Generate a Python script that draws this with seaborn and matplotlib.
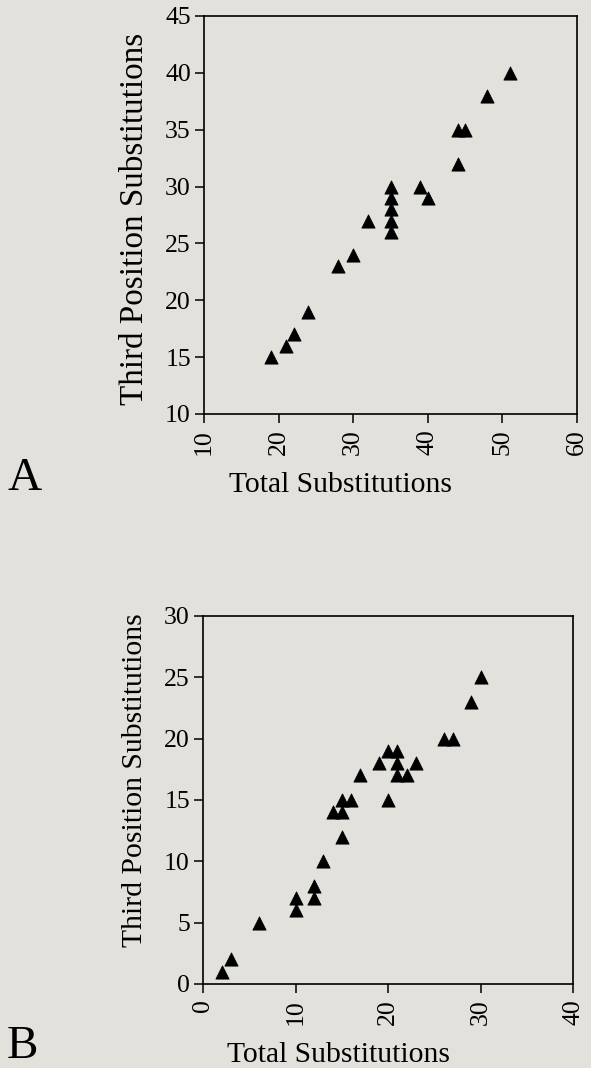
import matplotlib
matplotlib.use("Agg")
import matplotlib.pyplot as plt
import seaborn as sns
import pandas as pd

# Panel A data
a_total = [19, 21, 22, 24, 28, 30, 32, 35, 35, 35, 35, 35, 39, 40, 44, 44, 45, 48, 51]
a_third = [15, 16, 17, 19, 23, 24, 27, 26, 27, 28, 29, 30, 30, 29, 32, 35, 35, 38, 40]
a_xticks = [10, 20, 30, 40, 50, 60]
a_yticks = [10, 15, 20, 25, 30, 35, 40, 45]

# Panel B data
b_total = [2, 3, 6, 10, 10, 12, 12, 13, 15, 14, 15, 15, 16, 20, 17, 21, 22,
           19, 21, 23, 20, 21, 26, 27, 29, 30]
b_third = [1, 2, 5, 6, 7, 7, 8, 10, 12, 14, 14, 15, 15, 15, 17, 17, 17,
           18, 18, 18, 19, 19, 20, 20, 23, 25]
b_xticks = [0, 10, 20, 30, 40]
b_yticks = [0, 5, 10, 15, 20, 25, 30]

xlabel = "Total Substitutions"
ylabel = "Third Position Substitutions"

sns.set_theme(style="ticks")
plt.rcParams["font.family"] = ["Liberation Serif", "DejaVu Serif"]
bg = "#e3e1db"

fig = plt.figure(figsize=(5.91, 10.68), dpi=100, facecolor=bg)
W, H = 591, 1068

def axes_px(l, t, r, b):
    return fig.add_axes([l / W, 1 - b / H, (r - l) / W, (b - t) / H])

axA = axes_px(204, 16, 577, 414)
axB = axes_px(203, 616, 573, 984)

dfA = pd.DataFrame({"x": a_total, "y": a_third})
dfB = pd.DataFrame({"x": b_total, "y": b_third})

panels = [
    (axA, dfA, a_xticks, a_yticks, (0.365, -0.196), (-0.185, 0.49), 23.9),
    (axB, dfB, b_xticks, b_yticks, (0.365, -0.212), (-0.184, 0.554), 21.3),
]

for ax, df, xt, yt, xlc, ylc, yfs in panels:
    ax.set_facecolor(bg)
    sns.scatterplot(data=df, x="x", y="y", marker="^", color="black",
                    s=90, linewidth=0.6, edgecolor="black", ax=ax, zorder=3)
    ax.set_xlim(xt[0], xt[-1])
    ax.set_ylim(yt[0], yt[-1])
    ax.set_xticks(xt)
    ax.set_yticks(yt)
    ax.set_xticklabels([str(v) for v in xt], rotation=90)
    for s in ax.spines.values():
        s.set_visible(True)
        s.set_linewidth(1.2)
        s.set_color("black")
    ax.tick_params(axis="both", direction="out", length=6.5, width=1.1,
                   labelsize=18.5, colors="black")
    ax.tick_params(axis="x", pad=4.5)
    ax.tick_params(axis="y", pad=3.0)
    ax.set_xlabel(xlabel, fontsize=21.3, color="black")
    ax.set_ylabel(ylabel, fontsize=yfs, color="black")
    ax.xaxis.label.set_va("baseline")
    ax.xaxis.set_label_coords(*xlc)
    ax.yaxis.label.set_va("center")
    ax.yaxis.set_label_coords(*ylc)
    ax.grid(False)

fig.text(7 / W, 1 - 490 / H, "A", fontsize=34, va="baseline", ha="left", color="black")
fig.text(7 / W, 1 - 1058 / H, "B", fontsize=34, va="baseline", ha="left", color="black")

fig.savefig("out.png", dpi=100, facecolor=bg)
